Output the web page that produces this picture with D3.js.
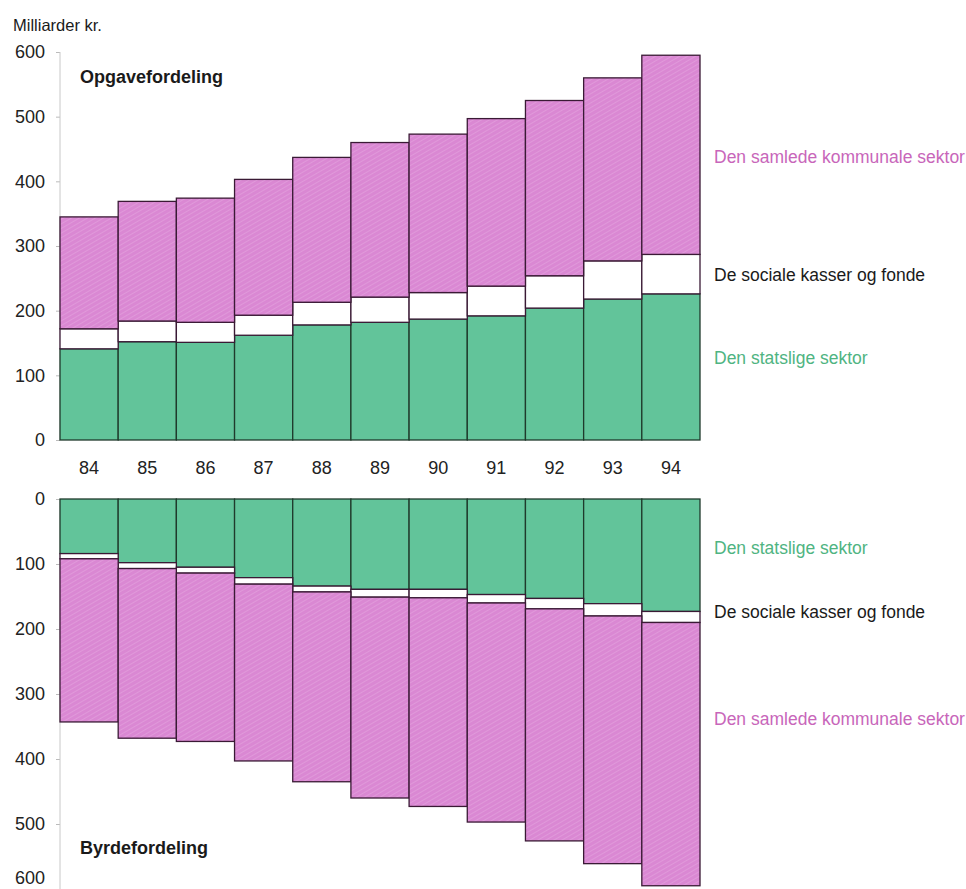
<!DOCTYPE html>
<html>
<head>
<meta charset="utf-8">
<script src="https://cdn.jsdelivr.net/npm/d3@7"></script>
<style>
  html, body { margin: 0; padding: 0; background: #fff; }
  svg { display: block; }
  text { font-family: "Liberation Sans", Arial, sans-serif; }
</style>
</head>
<body>
<svg id="chart" width="966" height="889"></svg>
<script>
// ---- data ----
const years = ["84","85","86","87","88","89","90","91","92","93","94"];
const yTicks = [0, 100, 200, 300, 400, 500, 600];

// Opgavefordeling (top panel), segment sizes in milliarder kr.
const opgStat     = [141, 152, 151, 162, 178, 182, 187, 192, 204, 218, 226];
const opgSocial   = [ 31,  32,  31,  31,  35,  39,  41,  46,  50,  59,  61];
const opgKommunal = [173, 185, 192, 210, 224, 239, 245, 259, 271, 283, 308];

// Byrdefordeling (bottom panel), segment sizes in milliarder kr.
const byrStat     = [ 84,  98, 105, 121, 134, 139, 139, 147, 153, 161, 173];
const byrSocial   = [  8,   9,   9,  10,   9,  12,  13,  13,  16,  19,  17];
const byrKommunal = [251, 261, 259, 272, 292, 309, 321, 337, 357, 381, 405];

const seriesKeys = ["stat", "social", "kommunal"];
const seriesNames = {
  stat: "Den statslige sektor",
  social: "De sociale kasser og fonde",
  kommunal: "Den samlede kommunale sektor"
};

// ---- styling ----
const fills = { stat: "#62c49a", social: "#ffffff", kommunal: "url(#pinkHatch)" };
const textColors = { stat: "#4fb482", social: "#1a1a1a", kommunal: "#c866ba" };

const svg = d3.select("#chart");
const defs = svg.append("defs");
const pat = defs.append("pattern")
  .attr("id", "pinkHatch").attr("patternUnits", "userSpaceOnUse")
  .attr("width", 4).attr("height", 4).attr("patternTransform", "rotate(60)");
pat.append("rect").attr("width", 4).attr("height", 4).attr("fill", "#da88d3");
pat.append("line").attr("x1", 0).attr("y1", 0).attr("x2", 0).attr("y2", 4)
  .attr("stroke", "#e6a8e1").attr("stroke-width", 1.1);

const x = d3.scaleBand().domain(years).range([60, 700]).padding(0);

function makeTable(a, b, c) {
  return years.map((yr, i) => ({ year: yr, stat: a[i], social: b[i], kommunal: c[i] }));
}
const stack = d3.stack().keys(seriesKeys);

function drawPanel(table, y, labelYs, title, titleY, axisTop, axisBottom, lastTickShift) {
  const g = svg.append("g");
  // axis
  const axis = d3.axisLeft(y).tickValues(yTicks).tickSize(4).tickPadding(11);
  const ag = g.append("g").attr("transform", "translate(60,0)").call(axis);
  ag.select(".domain").remove();
  ag.selectAll(".tick line").attr("stroke", "#bbbbbb");
  ag.selectAll(".tick text").attr("font-size", 18).attr("fill", "#222")
    .attr("font-family", "'Liberation Sans', Arial, sans-serif")
    .attr("dy", d => (d === 600 ? (0.32 + lastTickShift) + "em" : "0.32em"));
  g.append("line").attr("x1", 60).attr("x2", 60)
    .attr("y1", axisTop).attr("y2", axisBottom)
    .attr("stroke", "#c8c8c8").attr("stroke-width", 1);

  const stacked = stack(table);
  stacked.forEach(layer => {
    const key = layer.key;
    g.append("g").selectAll("rect").data(layer).join("rect")
      .attr("x", d => x(d.data.year))
      .attr("width", x.bandwidth())
      .attr("y", d => Math.min(y(d[0]), y(d[1])))
      .attr("height", d => Math.abs(y(d[1]) - y(d[0])))
      .attr("fill", fills[key])
      .attr("stroke", key === "stat" ? "#1f3a2c" : "#3a1a35")
      .attr("stroke-width", 1.3);
  });

  seriesKeys.forEach(k => {
    g.append("text").attr("x", 714).attr("y", labelYs[k])
      .attr("dominant-baseline", "middle")
      .attr("font-size", 17.5).attr("fill", textColors[k])
      .text(seriesNames[k]);
  });

  g.append("text").attr("x", 80).attr("y", titleY)
    .attr("font-size", 18).attr("font-weight", "bold").attr("fill", "#1a1a1a")
    .text(title);
}

// top panel
const yTop = d3.scaleLinear().domain([0, 600]).range([440, 52]);
drawPanel(makeTable(opgStat, opgSocial, opgKommunal), yTop,
  { kommunal: 158, social: 276, stat: 359 }, "Opgavefordeling", 83, 52, 440, 0);

// bottom panel
const yBot = d3.scaleLinear().domain([0, 600]).range([499, 889]);
drawPanel(makeTable(byrStat, byrSocial, byrKommunal), yBot,
  { stat: 549, social: 613, kommunal: 720 }, "Byrdefordeling", 854, 499, 889, -0.62);

// x-axis labels between panels
svg.append("g").selectAll("text").data(years).join("text")
  .attr("x", d => x(d) + x.bandwidth() / 2)
  .attr("y", 469)
  .attr("text-anchor", "middle").attr("dominant-baseline", "middle")
  .attr("font-size", 18).attr("fill", "#222")
  .text(d => d);

svg.append("text").attr("x", 13).attr("y", 31)
  .attr("font-size", 16.5).attr("fill", "#1a1a1a").text("Milliarder kr.");
</script>
</body>
</html>
